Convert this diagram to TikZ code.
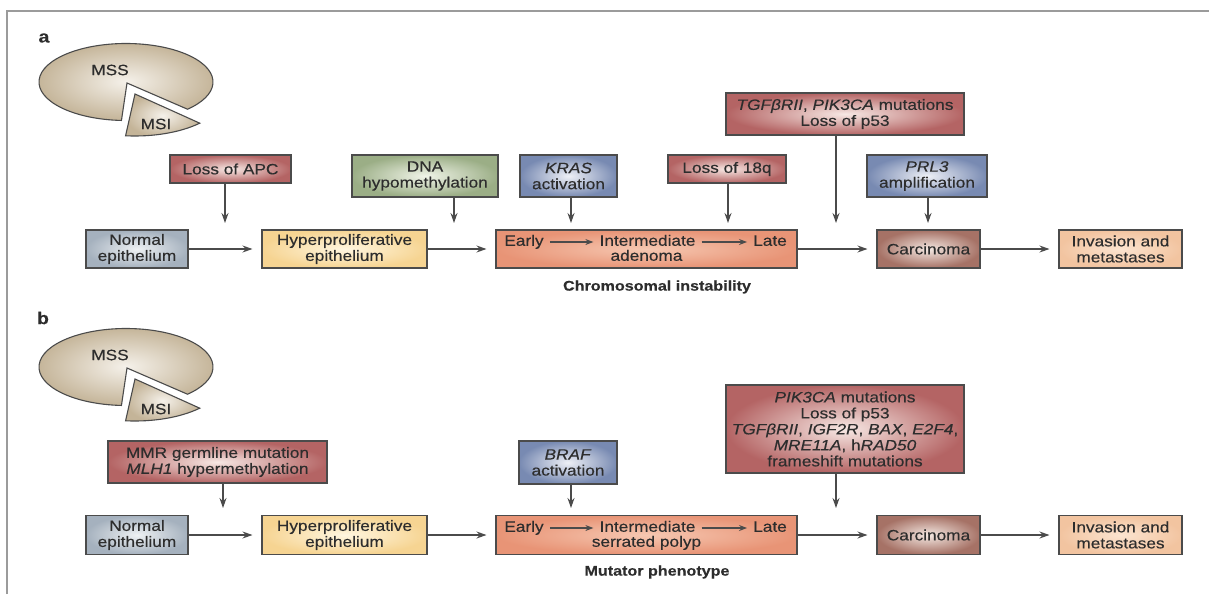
\documentclass[tikz,border=0pt]{standalone}
\usepackage{fontspec}
\setmainfont[FakeStretch=1.15, FakeBold=0.3]{Liberation Sans}
\usetikzlibrary{arrows.meta}

\definecolor{inkgray}{RGB}{45,45,45}
\definecolor{linegray}{RGB}{75,75,75}
\definecolor{framegray}{RGB}{155,155,155}
\definecolor{redout}{RGB}{180,100,100}
\definecolor{redin}{RGB}{247,232,228}
\definecolor{greenout}{RGB}{155,174,134}
\definecolor{greenin}{RGB}{240,244,232}
\definecolor{blueout}{RGB}{120,138,178}
\definecolor{bluein}{RGB}{238,240,246}
\definecolor{slateout}{RGB}{165,177,190}
\definecolor{slatein}{RGB}{238,241,243}
\definecolor{yellowout}{RGB}{246,212,146}
\definecolor{yellowin}{RGB}{255,246,224}
\definecolor{salmonout}{RGB}{232,148,118}
\definecolor{salmonin}{RGB}{246,200,178}
\definecolor{brownout}{RGB}{166,114,102}
\definecolor{brownin}{RGB}{244,232,226}
\definecolor{peachout}{RGB}{242,196,160}
\definecolor{peachin}{RGB}{252,228,208}
\definecolor{tanout}{RGB}{196,180,152}
\definecolor{tanin}{RGB}{245,241,234}

\tikzstyle{process} = [rectangle, draw=linegray, line width=1.1pt, text=inkgray, align=center, inner sep=2pt, font=\fontsize{15}{16}\selectfont]
\tikzstyle{redbox} = [process, inner color=redin, outer color=redout]
\tikzstyle{greenbox} = [process, inner color=greenin, outer color=greenout]
\tikzstyle{bluebox} = [process, inner color=bluein, outer color=blueout]
\tikzstyle{slatebox} = [process, inner color=slatein, outer color=slateout]
\tikzstyle{yellowbox} = [process, inner color=yellowin, outer color=yellowout]
\tikzstyle{salmonbox} = [process, inner color=salmonin, outer color=salmonout]
\tikzstyle{brownbox} = [process, inner color=brownin, outer color=brownout]
\tikzstyle{peachbox} = [process, inner color=peachin, outer color=peachout]
\tikzstyle{plaintext} = [text=inkgray, inner sep=1pt, font=\fontsize{15}{16}\selectfont]
\tikzstyle{word} = [plaintext, text height=10.5pt, text depth=3pt]
\tikzstyle{heading} = [plaintext, font=\fontsize{14}{16}\selectfont\bfseries]
\tikzstyle{panel} = [plaintext, font=\fontsize{17}{18}\selectfont\bfseries]
\tikzstyle{slice} = [draw=linegray, line width=1.1pt, inner color=tanin, outer color=tanout]
\tikzstyle{arrow} = [line width=1.1pt, draw=linegray, -{Stealth[length=10pt,width=7pt]}, shorten >=9pt]
\tikzstyle{droparrow} = [arrow, shorten >=0pt]
\tikzstyle{steparrow} = [line width=1.1pt, draw=linegray, -{Stealth[length=8pt,width=6pt]}, shorten >=5pt, shorten <=5pt]

\begin{document}
\begin{tikzpicture}[x=1pt, y=-1pt]
        \useasboundingbox (0,0) rectangle (1209,594);
        \draw[framegray, line width=1.5pt] (7,594) -- (7,11) -- (1209,11);

        % panel a
        \node (panela) [panel] at (44,38) {a};
        \draw[slice] (127,83) -- ([shift={(93:87 and 38.5)}]126,82) arc[start angle=93, end angle=405, x radius=87, y radius=38.5] -- cycle;
        \draw[slice] (135,94) -- ([shift={(44:90 and 42)}]135,94) arc[start angle=44, end angle=96, x radius=90, y radius=42] -- cycle;
        \node (mssa) [plaintext] at (110,70) {MSS};
        \node (msia) [plaintext] at (156,124) {MSI};

        \node (lossapc) [redbox, minimum width=121pt, minimum height=28pt] at (230.5,169) {Loss of APC};
        \node (dnahypo) [greenbox, minimum width=146pt, minimum height=42pt] at (425,176) {DNA\\hypomethylation};
        \node (krasact) [bluebox, minimum width=97pt, minimum height=42pt] at (568.5,176) {\textit{KRAS}\\activation};
        \node (loss18q) [redbox, minimum width=118pt, minimum height=28pt] at (727,169) {Loss of 18q};
        \node (tgfmut) [redbox, minimum width=238pt, minimum height=42pt] at (845,114) {\textit{TGFβRII}, \textit{PIK3CA} mutations\\Loss of p53};
        \node (prlamp) [bluebox, minimum width=120pt, minimum height=42pt] at (927,176) {\textit{PRL3}\\amplification};

        \node (normala) [slatebox, minimum width=102pt, minimum height=38pt] at (137,249) {Normal\\epithelium};
        \node (hypera) [yellowbox, minimum width=165pt, minimum height=38pt] at (344.5,249) {Hyperproliferative\\epithelium};
        \node (adenomaa) [salmonbox, minimum width=301pt, minimum height=38pt] at (646.5,249) {};
        \node (earlya) [word] at (524,242) {Early};
        \node (intera) [word] at (647.5,242) {Intermediate};
        \node (latea) [word] at (770,242) {Late};
        \node (kinda) [word] at (646.5,257) {adenoma};
        \node (carcinomaa) [brownbox, minimum width=103pt, minimum height=38pt] at (928.5,249) {Carcinoma};
        \node (invasiona) [peachbox, minimum width=123pt, minimum height=38pt] at (1120.5,249) {Invasion and\\metastases};
        \node (instability) [heading] at (657,287) {Chromosomal instability};

        \coordinate (apctip) at (225,223);
        \coordinate (dnatip) at (454,223);
        \coordinate (krastip) at (571,223);
        \coordinate (lossqtip) at (728,223);
        \coordinate (tgftip) at (836,223);
        \coordinate (prltip) at (928,223);

        \draw [droparrow] (lossapc.south -| apctip) -- (apctip);
        \draw [droparrow] (dnahypo.south -| dnatip) -- (dnatip);
        \draw [droparrow] (krasact.south -| krastip) -- (krastip);
        \draw [droparrow] (loss18q.south -| lossqtip) -- (lossqtip);
        \draw [droparrow] (tgfmut.south -| tgftip) -- (tgftip);
        \draw [droparrow] (prlamp.south -| prltip) -- (prltip);

        \draw [arrow] (normala.east) -- (hypera.west);
        \draw [arrow] (hypera.east) -- (adenomaa.west);
        \draw [arrow] (adenomaa.east) -- (carcinomaa.west);
        \draw [arrow] (carcinomaa.east) -- (invasiona.west);
        \draw [steparrow] (earlya.east) -- (intera.west);
        \draw [steparrow] (intera.east) -- (latea.west);

        % panel b
        \node (panelb) [panel] at (43,318) {b};
        \draw[slice] (127,368) -- ([shift={(93:87 and 38.5)}]126,367) arc[start angle=93, end angle=405, x radius=87, y radius=38.5] -- cycle;
        \draw[slice] (135,379) -- ([shift={(44:90 and 42)}]135,379) arc[start angle=44, end angle=96, x radius=90, y radius=42] -- cycle;
        \node (mssb) [plaintext] at (110,355) {MSS};
        \node (msib) [plaintext] at (156,409) {MSI};

        \node (mmrmut) [redbox, minimum width=219pt, minimum height=42pt] at (217.5,462) {MMR germline mutation\\\textit{MLH1} hypermethylation};
        \node (brafact) [bluebox, minimum width=98pt, minimum height=43pt] at (568,462.5) {\textit{BRAF}\\activation};
        \node (pikmut) [redbox, minimum width=238pt, minimum height=88pt] at (845,429) {\textit{PIK3CA} mutations\\Loss of p53\\\textit{TGFβRII}, \textit{IGF2R}, \textit{BAX}, \textit{E2F4},\\\textit{MRE11A}, h\textit{RAD50}\\frameshift mutations};

        \node (normalb) [slatebox, minimum width=102pt, minimum height=39pt] at (137,535) {Normal\\epithelium};
        \node (hyperb) [yellowbox, minimum width=165pt, minimum height=39pt] at (344.5,535) {Hyperproliferative\\epithelium};
        \node (polypb) [salmonbox, minimum width=301pt, minimum height=39pt] at (646.5,535) {};
        \node (earlyb) [word] at (524,528) {Early};
        \node (interb) [word] at (647.5,528) {Intermediate};
        \node (lateb) [word] at (770,528) {Late};
        \node (kindb) [word] at (646.5,543) {serrated polyp};
        \node (carcinomab) [brownbox, minimum width=103pt, minimum height=39pt] at (928.5,535) {Carcinoma};
        \node (invasionb) [peachbox, minimum width=123pt, minimum height=39pt] at (1120.5,535) {Invasion and\\metastases};
        \node (phenotype) [heading] at (657,572) {Mutator phenotype};

        \coordinate (mmrtip) at (223,508);
        \coordinate (braftip) at (571,508);
        \coordinate (piktip) at (836,508);

        \draw [droparrow] (mmrmut.south -| mmrtip) -- (mmrtip);
        \draw [droparrow] (brafact.south -| braftip) -- (braftip);
        \draw [droparrow] (pikmut.south -| piktip) -- (piktip);

        \draw [arrow] (normalb.east) -- (hyperb.west);
        \draw [arrow] (hyperb.east) -- (polypb.west);
        \draw [arrow] (polypb.east) -- (carcinomab.west);
        \draw [arrow] (carcinomab.east) -- (invasionb.west);
        \draw [steparrow] (earlyb.east) -- (interb.west);
        \draw [steparrow] (interb.east) -- (lateb.west);
    \end{tikzpicture}
\end{document}
